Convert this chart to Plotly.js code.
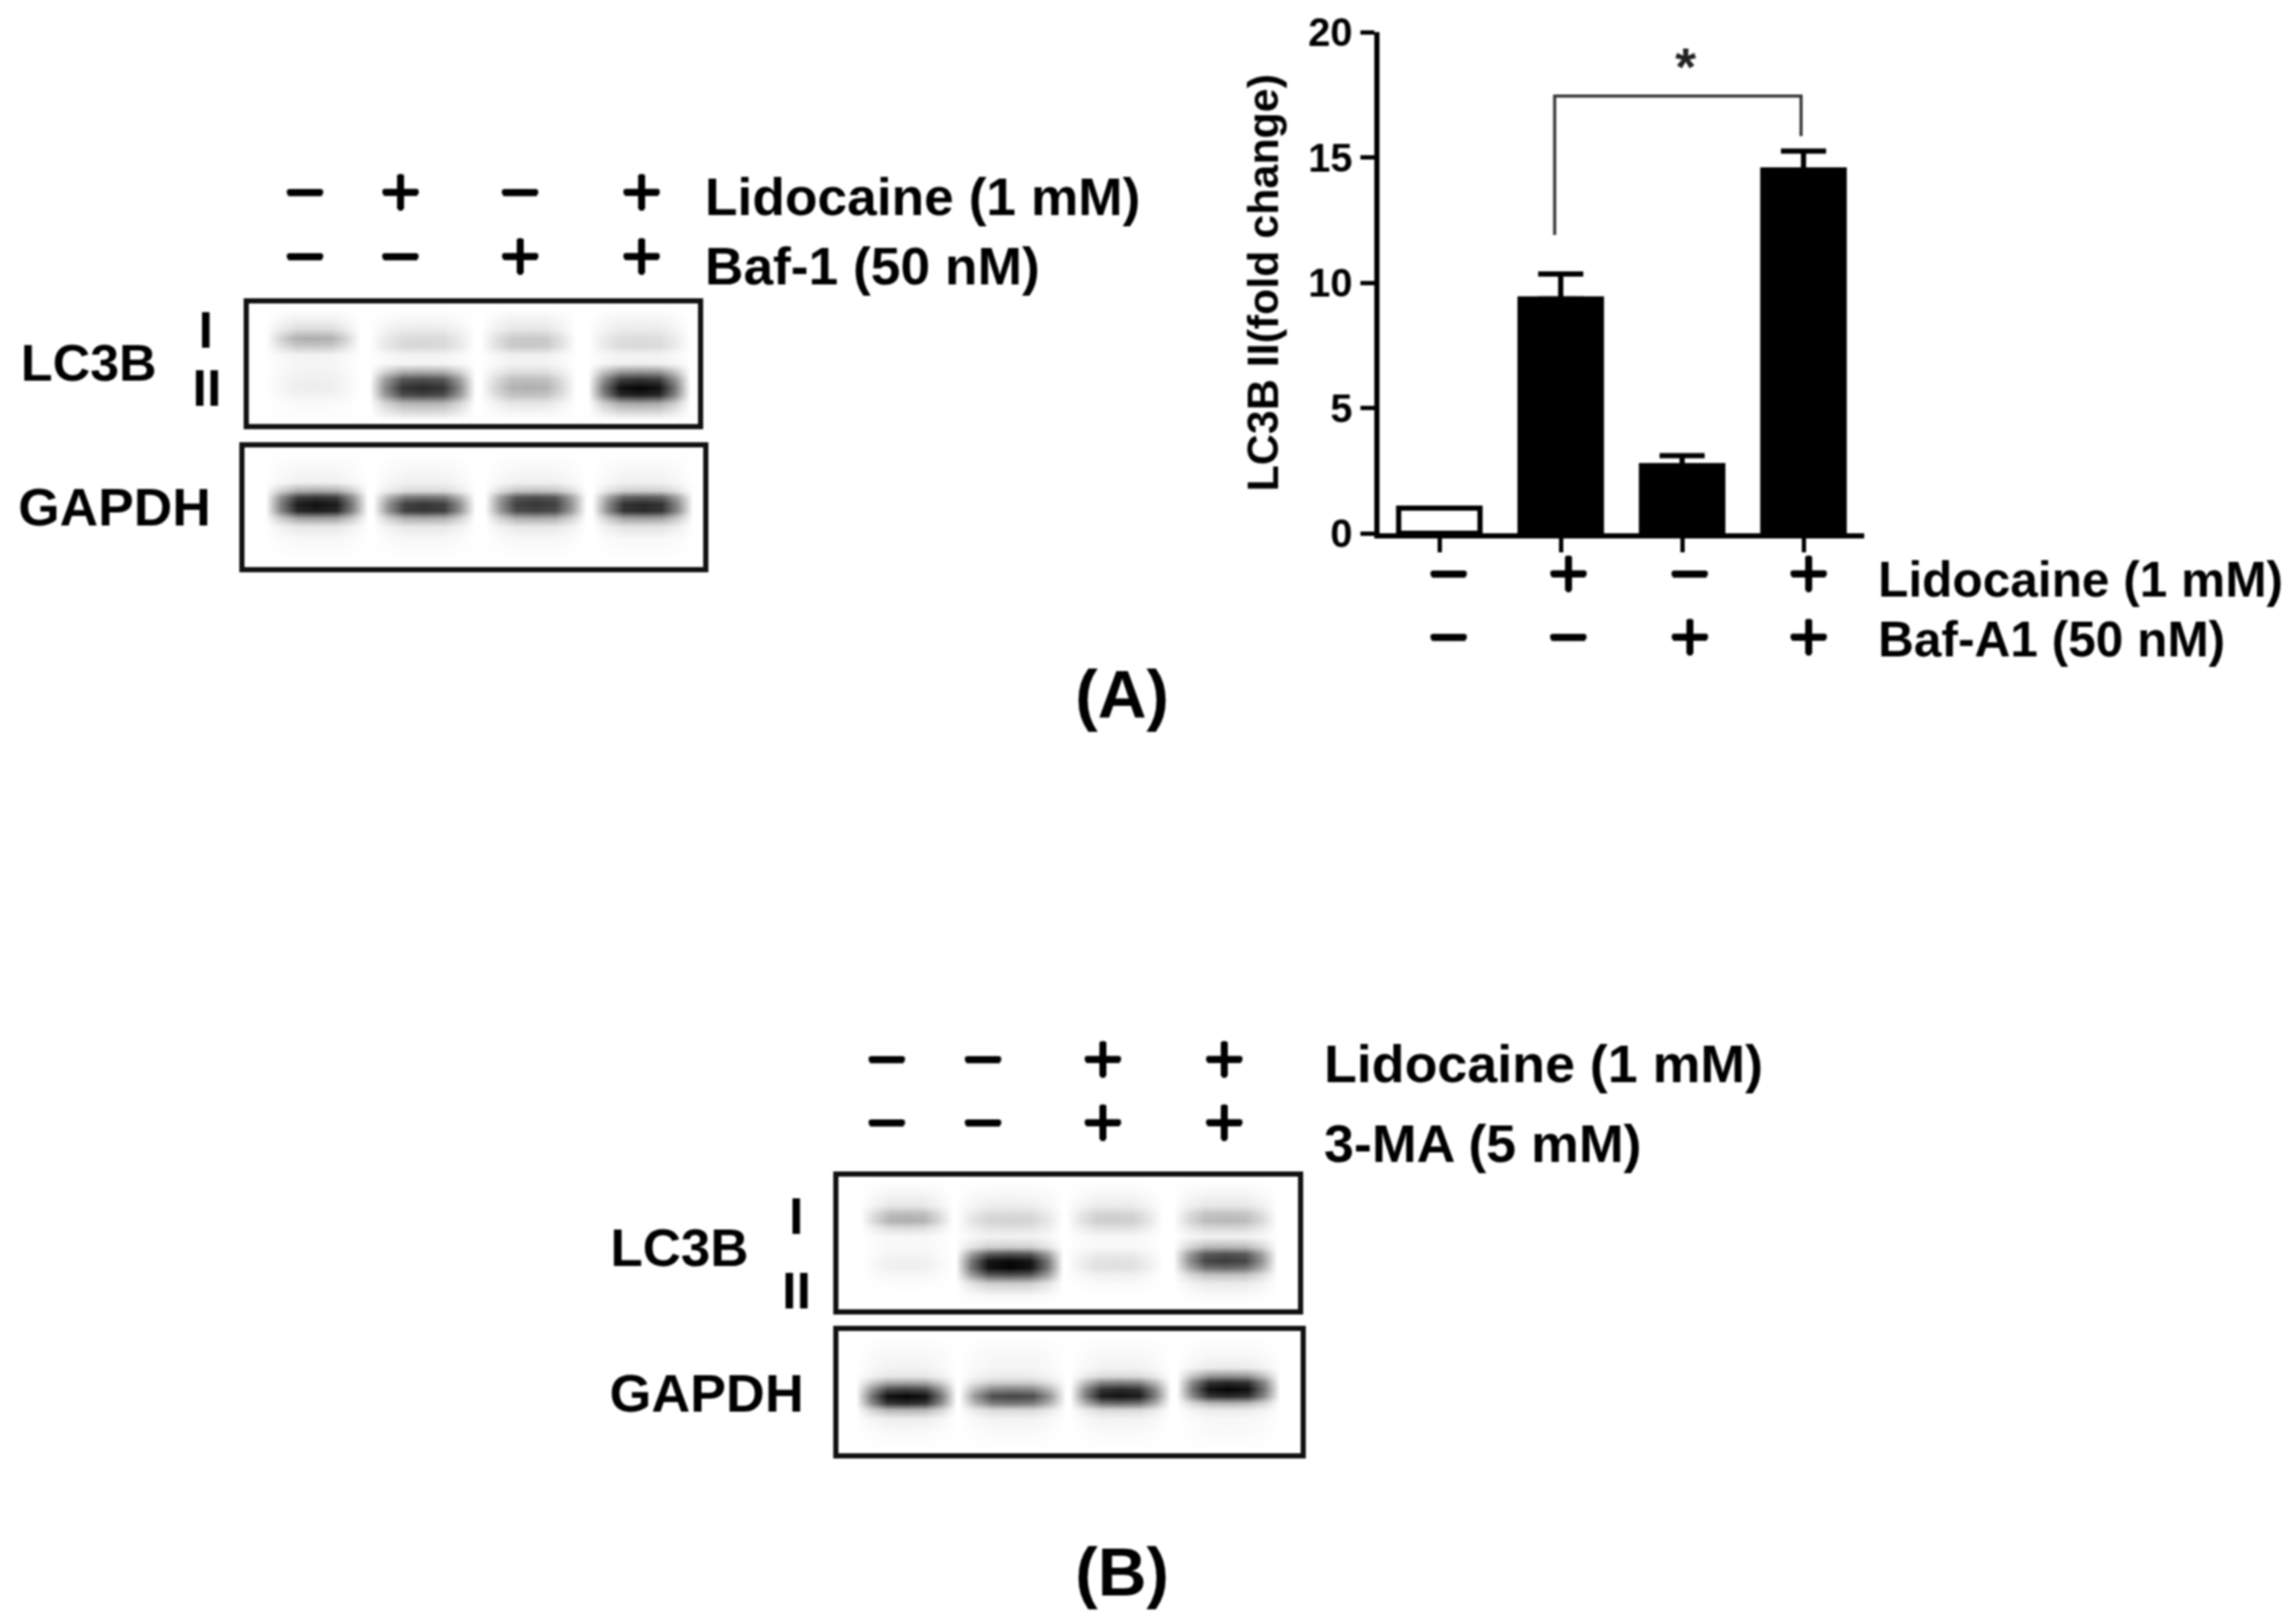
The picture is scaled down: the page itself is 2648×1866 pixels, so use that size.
<!DOCTYPE html>
<html><head><meta charset="utf-8">
<script src="https://cdn.plot.ly/plotly-3.0.1.min.js"></script>
<style>html,body{margin:0;padding:0;background:#fff}#c{width:2648px;height:1866px;filter:blur(0.8px)}</style>
</head><body><div id="c"></div>
<script>
// ---------- bar chart values
const barLabels = ['ctrl', 'lido', 'baf', 'lido+baf'];
const foldChange = [1.0, 9.35, 2.7, 14.5];
const foldError = [0, 1.0, 0.4, 0.75];
const barFill = ['#ffffff', '#000000', '#000000', '#000000'];
const yTicks = [0, 5, 10, 15, 20];
const bracketX = [0.95, 0.95, 2.98, 2.98];
const bracketY = [11.9, 17.45, 17.45, 15.85];

// ---------- treatment signs
const A_lido = ['−', '+', '−', '+'];
const A_baf = ['−', '−', '+', '+'];
const C_lido = ['−', '+', '−', '+'];
const C_baf = ['−', '−', '+', '+'];
const B_lido = ['−', '−', '+', '+'];
const B_ma = ['−', '−', '+', '+'];

// ---------- blot band densities: one row per depth in the blot, one value per lane
const lc3A = [[0,0,0,0],[.05,.03,.05,.04],[.14,.08,.1,.08],[.33,.15,.22,.14],[.22,.16,.22,.15],[.05,.05,.06,.05],[.04,.04,.05,.06],[.05,.35,.14,.45],[.06,.7,.26,.8],[.07,.85,.32,1],[.05,.75,.25,.9],[.02,.3,.1,.35],[.01,.12,.03,.12],[0,0,0,0]];
const lc3ADepth = [8,20,32,43,52,62,72,82,90,100,108,118,130,138];
const lc3ALanes = [[36,118],[156,250],[284,366],[408,498]];
const gapdhA = [[0,0,0,0],[.03,.03,.03,.03],[.06,.06,.06,.06],[.35,.15,.25,.2],[.8,.55,.7,.65],[.95,.8,.8,.85],[.9,.8,.75,.85],[.4,.35,.35,.4],[.1,.1,.1,.12],[.03,.03,.03,.03],[0,0,0,0]];
const gapdhADepth = [6,28,43,53,60,68,76,84,94,108,134];
const gapdhALanes = [[41,131],[165,255],[294,383],[418,506]];
const lc3B = [[0,0,0,0],[.04,.03,.03,.04],[.1,.07,.08,.1],[.28,.15,.18,.25],[.32,.18,.2,.28],[.14,.12,.12,.16],[.03,.05,.03,.05],[.03,.2,.03,.3],[.04,.7,.08,.7],[.06,.98,.12,.78],[.06,1,.12,.6],[.03,.7,.06,.25],[.01,.2,.02,.08],[0,.03,0,.02],[0,0,0,0]];
const lc3BDepth = [8,22,36,46,54,62,72,84,92,100,108,116,126,140,152];
const lc3BLanes = [[42,121],[152,248],[279,363],[403,495]];
const gapdhB = [[0,0,0,0],[.03,.03,.03,.03],[.05,.04,.05,.08],[.1,.08,.15,.45],[.35,.2,.5,.85],[.75,.5,.85,1],[1,.75,.95,.85],[.85,.55,.6,.3],[.3,.15,.15,.08],[.07,.05,.05,.03],[.02,.02,.02,.02],[0,0,0,0]];
const gapdhBDepth = [8,30,45,55,62,70,78,86,94,104,120,140];
const gapdhBLanes = [[37,125],[156,251],[284,372],[407,498]];

// ---------- layout
const W = 2648, H = 1866;
const FONT = 'Liberation Sans, Arial, sans-serif';
const SIGN_FONT = 'DejaVu Sans, Liberation Sans, sans-serif';
const SIGN_SHADOW = '1.5px 0 0 #000, -1.5px 0 0 #000, 0 1.5px 0 #000, 0 -1.5px 0 #000';
const px = v => v / W, py = v => 1 - v / H;
const layout = {
  width: W, height: H, margin: {l: 0, r: 0, t: 0, b: 0},
  paper_bgcolor: '#fff', plot_bgcolor: 'rgba(0,0,0,0)', showlegend: false,
  font: {family: FONT, color: '#000'}, annotations: [],
  xaxis: {domain: [px(1591), px(2150)], range: [-0.493, 3.5], tickmode: 'array', tickvals: [0,1,2,3], ticktext: ['','','',''],
    ticks: 'outside', ticklen: 16, tickwidth: 5, tickcolor: '#000', showline: true, linewidth: 6, linecolor: '#000', showgrid: false, zeroline: false},
  yaxis: {domain: [py(615), py(37)], range: [0, 20], tickmode: 'array', tickvals: yTicks,
    ticks: 'outside', ticklen: 16, tickwidth: 5, tickcolor: '#000', showline: true, linewidth: 6, linecolor: '#000', showgrid: false, zeroline: false,
    tickfont: {family: FONT, size: 46, weight: 700, color: '#000'},
    title: {text: 'LC3B II(fold change)', font: {family: FONT, size: 49.5, weight: 700, color: '#000'}, standoff: 20}}
};

const data = [
  {type: 'bar', x: [0,1,2,3], y: foldChange, width: 0.67, customdata: barLabels,
   marker: {color: barFill, line: {color: '#000', width: 6}},
   error_y: {type: 'data', symmetric: false, array: foldError, arrayminus: [0,0,0,0], color: '#000', thickness: 6, width: 26}},
  {type: 'scatter', mode: 'lines', x: bracketX, y: bracketY, line: {color: '#333', width: 3.5}}
];

// one blot: a heatmap drawn on its own framed axes
const CROSS_W = [0, .55, .95, 1, .95, .55, 0];
function addBlot(n, frame, rows, depth, lanes) {
  const [x0, x1, y0, y1] = frame, w = x1 - x0, h = y1 - y0;
  const xs = [], idx = [];
  lanes.forEach(([l, r], li) => {
    const lw = r - l;
    [l-14, l+4, l+.25*lw, l+.5*lw, l+.75*lw, r-4, r+14].forEach((v, i) => { xs.push(v); idx.push([li, CROSS_W[i]]); });
  });
  const z = rows.map(row => idx.map(([li, wt]) => row[li] * wt));
  data.push({type: 'heatmap', x: xs, y: depth, z, xaxis: 'x' + n, yaxis: 'y' + n, zmin: 0, zmax: 1, zsmooth: 'best', showscale: false,
    colorscale: [[0,'#ffffff'],[1,'#040404']], hoverinfo: 'skip'});
  const ax = {showline: true, mirror: true, linewidth: 6, linecolor: '#111', showgrid: false, zeroline: false, ticks: '', showticklabels: false};
  layout['xaxis' + n] = Object.assign({}, ax, {domain: [px(x0 + 3), px(x1 - 3)], range: [3, w - 3], anchor: 'y' + n});
  layout['yaxis' + n] = Object.assign({}, ax, {domain: [py(y1 - 3), py(y0 + 3)], range: [h - 3, 3], anchor: 'x' + n});
}
addBlot(2, [284, 808, 347, 492], lc3A, lc3ADepth, lc3ALanes);
addBlot(3, [279, 814, 513, 657], gapdhA, gapdhADepth, gapdhALanes);
addBlot(4, [964, 1500, 1354, 1513], lc3B, lc3BDepth, lc3BLanes);
addBlot(5, [964, 1503, 1532, 1679], gapdhB, gapdhBDepth, gapdhBLanes);

// text labels
function txt(text, x, y, size, bold, anchor, color, family, shadow) {
  const font = {family: family || FONT, size, color: color || '#000'};
  if (shadow) font.shadow = shadow;
  layout.annotations.push({xref: 'paper', yref: 'paper', x: px(x), y: py(y), text: bold ? '<b>' + text + '</b>' : text, showarrow: false,
    xanchor: anchor || 'left', yanchor: 'middle', borderpad: 0, borderwidth: 0, font});
}
function signs(arr, cols, y) { arr.forEach((s, i) => txt(s, cols[i], y - 2, 62, false, 'center', '#000', SIGN_FONT, SIGN_SHADOW)); }
const colsA = [352, 462, 600, 740], colsC = [1671, 1809, 1949, 2086], colsB = [1023, 1134, 1272, 1412];
signs(A_lido, colsA, 222); signs(A_baf, colsA, 296);
signs(C_lido, colsC, 661); signs(C_baf, colsC, 734);
signs(B_lido, colsB, 1221); signs(B_ma, colsB, 1294);
txt('Lidocaine (1 mM)', 813, 226, 61.5, true);
txt('Baf-1 (50 nM)', 813, 306, 61.5, true);
txt('Lidocaine (1 mM)', 2166, 668, 57.2, true);
txt('Baf-A1 (50 nM)', 2166, 737, 57.2, true);
txt('Lidocaine (1 mM)', 1527, 1226, 62, true);
txt('3-MA (5 mM)', 1527, 1318, 62, true);
txt('LC3B', 24, 419, 60, true);
txt('GAPDH', 21, 584, 61.5, true);
txt('I', 237, 380, 60, true, 'center');
txt('II', 238, 448, 60, true, 'center');
txt('LC3B', 704, 1439, 61, true);
txt('GAPDH', 703, 1606, 62, true);
txt('I', 918, 1402, 60, true, 'center');
txt('II', 918, 1488, 60, true, 'center');
txt('*', 1944, 77, 62, true, 'center', '#222');
txt('(A)', 1294, 801, 78, true, 'center');
txt('(B)', 1294, 1813, 78, true, 'center');

Plotly.newPlot('c', data, layout, {displayModeBar: false, staticPlot: true});
</script></body></html>
